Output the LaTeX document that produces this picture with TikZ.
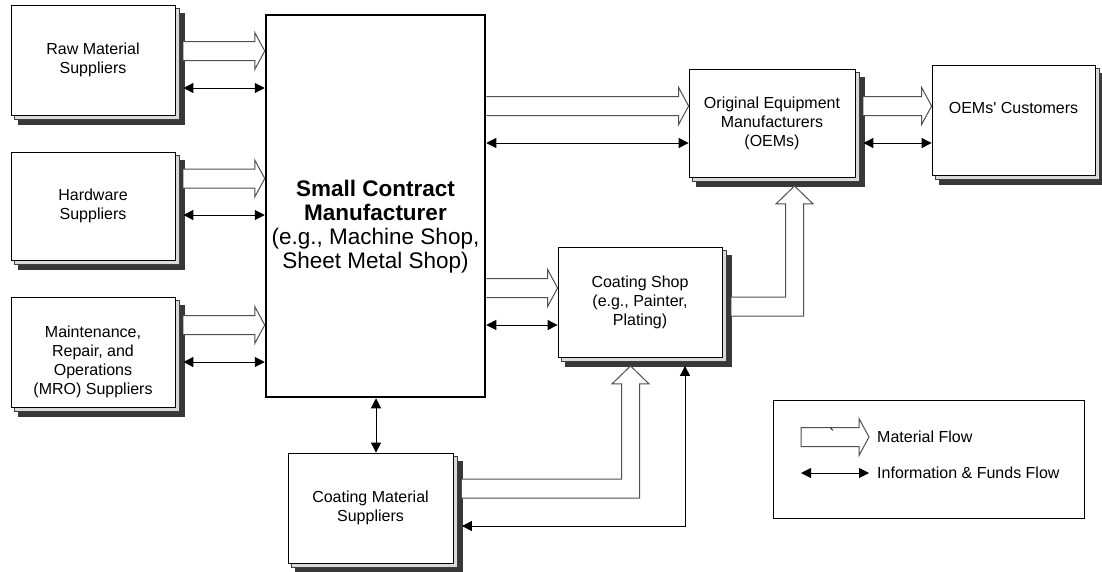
\documentclass[tikz,border=0pt]{standalone}
\usepackage{fontspec}
\setmainfont{Liberation Sans}
\usetikzlibrary{arrows.meta,calc,backgrounds}
\definecolor{shd}{HTML}{383838}
\definecolor{shl}{HTML}{DADADA}
\definecolor{matline}{HTML}{505050}
\newcommand\matR[2]{%
  \draw[mat] let \p1=(#1), \p2=(#2) in
    (\x1,\y1+9.5pt) -- (\x2-10pt,\y1+9.5pt) -- (\x2-10pt,\y1+18.5pt) -- (\x2,\y1)
    -- (\x2-10pt,\y1-18.5pt) -- (\x2-10pt,\y1-9.5pt) -- (\x1,\y1-9.5pt);}
\newcommand\matUp[2]{%
  \draw[mat] let \p1=(#1), \p2=(#2) in
    (\x1,\y1) -- (\x2-9pt,\y1) -- (\x2-9pt,\y2-18pt) -- (\x2-18.5pt,\y2-18pt) -- (\x2,\y2)
    -- (\x2+18.5pt,\y2-18pt) -- (\x2+9pt,\y2-18pt) -- (\x2+9pt,\y1-19pt) -- (\x1,\y1-19pt);}
\newcommand\stackshadow[1]{%
  \filldraw[shdark] ($(#1.south west)+(8,8.5)$) rectangle ($(#1.north east)+(8.5,8.5)$);
  \filldraw[shlight] ($(#1.south west)+(4,4)$) rectangle ($(#1.north east)+(4,4)$);}
\tikzset{
  box/.style={draw=black, line width=0.8pt, fill=white, minimum width=164pt,
    minimum height=110pt, inner sep=0pt},
  shdark/.style={fill=shd, draw=shd, line width=0.5pt},
  shlight/.style={fill=shl, draw=black!75, line width=0.6pt},
  txt/.style={font=\fontsize{16}{19}\selectfont, align=center},
  mat/.style={draw=matline, fill=white, line width=1pt, line join=miter},
  info/.style={draw=black, line width=0.9pt,
    {Triangle[length=10pt,width=10pt]}-{Triangle[length=10pt,width=10pt]}},
}
\begin{document}
\begin{tikzpicture}[x=1pt,y=-1pt]
\useasboundingbox (0,0) rectangle (1102,571);
% boxes
\node[box, txt] (raw) at (93,60) {Raw Material\\Suppliers};
\node[box, txt, minimum height=108pt] (hw) at (93,206) {Hardware\\Suppliers};
\node[box, label={[txt, yshift=-10pt]center:Maintenance,\\Repair, and\\Operations\\(MRO) Suppliers}] (mro) at (93,352) {};
\node[draw=black, line width=2.5pt, fill=white, minimum width=219pt, minimum height=382pt,
  label={[font=\fontsize{22.5}{24}\selectfont, align=center, yshift=-21pt]center:\textbf{Small Contract}\\\textbf{Manufacturer}\\(e.g., Machine Shop,\\Sheet Metal Shop)}] (main) at (375.5,206) {};
\node[box, txt, minimum width=166pt, minimum height=108pt] (oem) at (772,123) {Original Equipment\\Manufacturers\\(OEMs)};
\node[box, minimum width=163pt, label={[txt, yshift=12pt]center:OEMs\textquotesingle{} Customers}] (cust) at (1013.5,120) {};
\node[box, txt] (coat) at (640,302) {Coating Shop\\(e.g., Painter,\\Plating)};
\node[box, txt, minimum width=165pt] (cmat) at (370.5,508) {Coating Material\\Suppliers};

\begin{scope}[on background layer]
  \stackshadow{raw}
  \stackshadow{hw}
  \stackshadow{mro}
  \stackshadow{oem}
  \stackshadow{cust}
  \stackshadow{coat}
  \stackshadow{cmat}
\end{scope}

% raw -> main
\coordinate (r1) at ($(raw.east)+(8,-9)$);
\matR{r1}{main.west |- r1}
\coordinate (r2) at ($(raw.east)+(8,28)$);
\draw[info] (r2) -- (main.west |- r2);
% hardware -> main
\coordinate (h1) at ($(hw.east)+(8,-27.5)$);
\matR{h1}{main.west |- h1}
\coordinate (h2) at ($(hw.east)+(8,9)$);
\draw[info] (h2) -- (main.west |- h2);
% mro -> main
\coordinate (m1) at ($(mro.east)+(8,-27)$);
\matR{m1}{main.west |- m1}
\coordinate (m2) at ($(mro.east)+(8,10)$);
\draw[info] (m2) -- (main.west |- m2);
% main -> oem
\coordinate (o1) at ($(oem.west)+(0,-17)$);
\matR{main.east |- o1}{o1}
\coordinate (o2) at ($(oem.west)+(0,20)$);
\draw[info] (main.east |- o2) -- (o2);
% oem -> customers
\coordinate (c1) at ($(cust.west)+(0,-14)$);
\coordinate (c1s) at ($(oem.east |- c1)+(8,0)$);
\matR{c1s}{c1}
\coordinate (c2) at ($(cust.west)+(0,23)$);
\draw[info] ($(oem.east |- c2)+(8,0)$) -- (c2);
% main -> coating shop
\coordinate (s1) at ($(coat.west)+(0,-14)$);
\matR{main.east |- s1}{s1}
\coordinate (s2) at ($(coat.west)+(0,23)$);
\draw[info] (main.east |- s2) -- (s2);
% coating shop -> oem
\coordinate (u1) at ($(coat.east)+(9,-5)$);
\coordinate (u1t) at ($(oem.south)+(22.5,8.5)$);
\matUp{u1}{u1t}
% coating material -> coating shop
\coordinate (u2) at ($(cmat.east)+(8.5,-29)$);
\coordinate (u2t) at ($(coat.south)+(-9.5,8.5)$);
\matUp{u2}{u2t}
% info coating shop <-> coating material
\coordinate (i1) at ($(cmat.east)+(8.5,18)$);
\coordinate (i2) at ($(coat.south)+(45,8.5)$);
\draw[info] (i1) -| (i2);
% main <-> coating material
\coordinate (v1) at ($(cmat.north)+(5.5,0)$);
\draw[info] (main.south -| v1) -- (v1);

% legend
\node[draw=black, line width=0.8pt, minimum width=311pt, minimum height=118pt] (legend) at (928.5,459) {};
\node[txt, anchor=west, inner sep=0pt] (lm) at (877,437) {Material Flow};
\node[txt, anchor=west, inner sep=0pt] (li) at (877,473) {Information \& Funds Flow};
\draw[mat] let \p1=($(lm.west)+(-76,0)$), \p2=($(lm.west)+(-8,0)$) in
    (\x1,\y1+9.5pt) -- (\x2-10pt,\y1+9.5pt) -- (\x2-10pt,\y1+18.5pt) -- (\x2,\y1)
    -- (\x2-10pt,\y1-18.5pt) -- (\x2-10pt,\y1-9.5pt) -- (\x1,\y1-9.5pt) -- cycle;
\node[font=\fontsize{16}{19}\selectfont, inner sep=0pt, anchor=north] (tick) at (832,429) {\textasciigrave};
\draw[info] ($(li.west)+(-76,0)$) -- ($(li.west)+(-8,0)$);
\end{tikzpicture}
\end{document}
